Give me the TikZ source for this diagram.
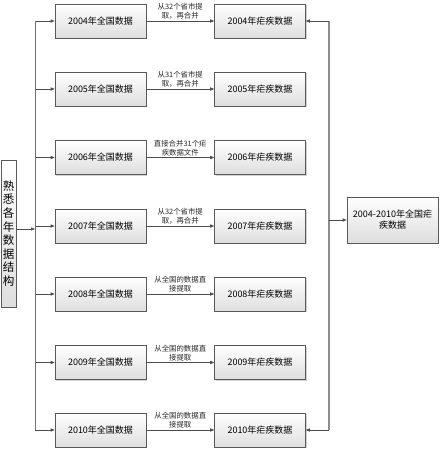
\documentclass[tikz,border=0pt]{standalone}
\usepackage{fontspec}
\setmainfont{Noto Sans CJK SC}
\usetikzlibrary{shadows,arrows.meta}
\tikzset{
  box/.style={draw=black!65, line width=0.6pt, top color=white, bottom color=black!13,
    minimum width=91pt, minimum height=34pt, inner sep=0pt, align=center,
    font=\fontsize{9}{11}\selectfont,
    drop shadow={shadow xshift=1.3pt, shadow yshift=-1.3pt, fill=black!35, opacity=0.5}},
  arr/.style={-{Triangle[length=4pt,width=3.2pt]}, draw=black!70, line width=0.6pt},
  trunk/.style={draw=black!55, line width=0.9pt},
  rtrunk/.style={draw=black!45, line width=1.3pt},
  lbl/.style={font=\fontsize{7.4}{9}\selectfont, align=center, inner sep=1.2pt, text=black!85}
}
\begin{document}
\begin{tikzpicture}[x=1pt,y=-1pt]
\useasboundingbox (0,0) rectangle (440,449);
\coordinate (L) at (35,0);
\coordinate (R) at (329,0);
\node[box, minimum width=15pt, minimum height=147pt, font=\fontsize{11.5}{13.6}\selectfont] (v) at (8.5,233.5)
  {熟\\悉\\各\\年\\数\\据\\结\\构};
\foreach \yr/\y/\la/\lb in {2004/21/从32个省市提/取，再合并,
  2005/89/从31个省市提/取，再合并,
  2006/157.5/直接合并31个疟/疾数据文件,
  2007/226/从32个省市提/取，再合并,
  2008/294/从全国的数据直/接提取,
  2009/362.5/从全国的数据直/接提取,
  2010/430/从全国的数据直/接提取}{
  \node[box] (a\yr) at (100.5,\y) {\yr 年全国数据};
  \node[box] (b\yr) at (260,\y) {\yr 年疟疾数据};
  \draw[arr] (a\yr) -- (b\yr) node[lbl, midway, above] {\la\\\lb};
  \draw[arr] (a\yr.west -| L) -- (a\yr.west);
}
\draw[trunk] (a2004.west -| L) -- (a2010.west -| L);
\draw[arr] ([yshift=4.5pt]v.east) -- ([yshift=4.5pt]v.east -| L);
\node[box, minimum height=46pt] (f) at (392.5,220) {2004-2010年全国疟\\疾数据};
\draw[rtrunk] (b2004.east -| R) -- (b2010.east -| R);
\draw[arr] (b2004.east -| R) -- (b2004.east);
\draw[arr] (b2010.east -| R) -- (b2010.east);
\draw[arr] (f.west -| R) -- (f.west);
\end{tikzpicture}
\end{document}
